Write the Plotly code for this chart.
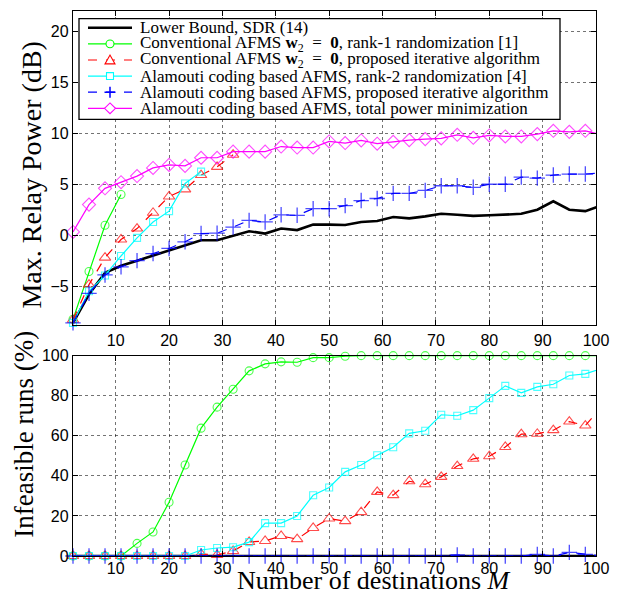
import plotly.graph_objects as go

# ---------------- data ----------------
M = list(range(2, 102, 3))  # 2, 5, ..., 98, 101

black_top = [-8.6, -5.8, -3.7, -3.0, -2.5, -2.0, -1.45, -0.97, -0.49, -0.49, -0.06, 0.39,
             0.16, 0.65, 0.5, 1.04, 1.04, 1.0, 1.3, 1.4, 1.78, 1.65, 1.85, 2.1, 2.0, 1.9,
             1.95, 2.0, 2.1, 2.5, 3.33, 2.5, 2.36, 2.93]
green_top = [-8.25, -3.56, 0.97, 4.0]
red_top = [-8.3, -4.85, -2.2, -0.42, 0.65, 2.2, 3.8, 4.5, 5.9, 6.7, 7.9]
cyan_top = [-8.6, -5.5, -3.95, -2.04, -0.26, 1.3, 2.36, 5.08, 6.24]
blue_top = [-8.6, -5.7, -3.9, -3.1, -2.5, -1.8, -1.3, -0.65, 0.16, 0.2, 0.8, 1.45,
            1.3, 2.0, 1.95, 2.6, 2.6, 2.9, 3.4, 3.6, 4.1, 4.1, 4.4, 4.85, 4.85, 4.7,
            5.0, 5.0, 5.7, 5.6, 5.9, 6.0, 6.0, 6.1]
magenta_top = [0.32, 3.0, 4.6, 5.2, 5.8, 6.6, 6.9, 6.8, 7.6, 7.6, 8.2, 8.2, 8.2, 8.7,
               8.6, 8.6, 9.2, 9.04, 9.3, 8.98, 9.17, 9.33, 9.43, 9.5, 9.85, 9.56, 9.79,
               9.69, 9.69, 9.92, 10.24, 10.14, 10.24, 9.88]

black_bot = [0.0] * 34
green_bot = [0, 0, 0, 0, 6.3, 12, 26.8, 45.4, 63.8, 74.3, 83.2, 92.4, 95.9, 96.9, 96.7,
             99, 99, 99.7, 100, 100, 100, 100, 100, 100, 100, 100, 100, 100, 100, 100,
             100, 100, 100, 100]
red_bot = [0, 0, 0, 0, 0, 0, 0, 0, 1.0, 0.5, 2.5, 7, 7.5, 10, 8.4, 14, 18.7, 17.4, 21.9,
           32, 30.4, 37.3, 35.8, 39.5, 44.9, 48.5, 49.8, 54.4, 60.8, 61, 62.8, 67.1,
           65.1, 74.3]
cyan_bot = [0, 0, 0, 0, 0, 0, 0, 0, 3.0, 4.0, 4.4, 6.9, 16.4, 16.4, 20, 30.3, 34.2, 42,
            45.4, 50.3, 54.3, 61.2, 62.5, 70.5, 70, 72.8, 78.8, 84.9, 81.4, 84.4, 85.7,
            90.1, 90.9, 93.5]
blue_bot = [0, 0, 0, 0, 0, 0, 0, 0, 0, 0, 0, 0, 0, 0, 0, 0, 0, 0, 0, 0, 0, 0, 0, 0, 0.5,
            0, 0, 0, 0, 0.8, 0, 1.8, 0.8, 0]

x_ticks = [10, 20, 30, 40, 50, 60, 70, 80, 90, 100]
y_ticks_top = [-5, 0, 5, 10, 15, 20]
y_ticks_bot = [0, 20, 40, 60, 80, 100]

W2 = "<b>w</b><sub>2</sub>\u00a0\u00a0=\u00a0\u00a0<b>0</b>"
legend_labels = [
    "Lower Bound, SDR (14)",
    f"Conventional AFMS {W2}, rank-1 randomization [1]",
    f"Conventional AFMS {W2}, proposed iterative algorithm",
    "Alamouti coding based AFMS, rank-2 randomization [4]",
    "Alamouti coding based AFMS, proposed iterative algorithm",
    "Alamouti coding based AFMS, total power minimization",
]

# ---------------- layout helpers ----------------
W, H = 618, 596
ML, MR, MT, MB = 73, 22, 3, 40
PW, PH = W - ML - MR, H - MT - MB


def fx(px):
    return (px - ML) / PW


def fy(py):
    return (H - MB - py) / PH


XMAX = 100
SERIF = "Liberation Serif, Times New Roman, serif"
SANS = "Liberation Sans, Arial, sans-serif"

styles = [
    dict(color="#000000", dash="solid", symbol=None, size=0, width=2.6),
    dict(color="#00ff00", dash="solid", symbol="circle-open", size=8, width=1.2),
    dict(color="#ff0000", dash="dash", symbol="triangle-up-open", size=10, width=1.2),
    dict(color="#00ffff", dash="solid", symbol="square-open", size=7, width=1.2),
    dict(color="#0000ff", dash="dash", symbol="cross-thin-open", size=11, width=1.2),
    dict(color="#ff00ff", dash="solid", symbol="diamond-open", size=10, width=1.2),
]

fig = go.Figure()


def add(xs, ys, st, xa, ya):
    sizes = [st["size"] if x <= XMAX else 0 for x in xs]
    mode = "lines" if st["symbol"] is None else "lines+markers"
    tr = dict(x=xs, y=ys, mode=mode, showlegend=False, xaxis=xa, yaxis=ya,
              line=dict(color=st["color"], dash=st["dash"], width=st["width"]),
              cliponaxis=False, hoverinfo="skip")
    if st["symbol"] is not None:
        tr["marker"] = dict(symbol=st["symbol"], size=sizes, color=st["color"],
                            line=dict(color=st["color"], width=1.3 if "cross" in st["symbol"] else 1.1))
    fig.add_trace(go.Scatter(**tr))


top_series = [black_top, green_top, red_top, cyan_top, blue_top, magenta_top]
for ys, st in zip(top_series, styles):
    add(M[:len(ys)], ys, st, "x", "y")

bot_series = [black_bot, green_bot, red_bot, cyan_bot, blue_bot]
for ys, st in zip(bot_series, styles[:5]):
    add(M[:len(ys)], ys, st, "x2", "y2")

axis_common = dict(showline=True, linecolor="black", linewidth=1.3, mirror="ticks",
                   ticks="inside", ticklen=5, tickcolor="black", tickwidth=1,
                   showgrid=True, gridcolor="rgba(0,0,0,0.55)", griddash="dot", gridwidth=1,
                   zeroline=False, tickfont=dict(family=SANS, size=16, color="black"))

top_bottom_px = 322
bot_top_px = 352.7
fig.update_layout(
    width=W, height=H,
    margin=dict(l=ML, r=MR, t=MT, b=MB),
    paper_bgcolor="white", plot_bgcolor="white",
    xaxis=dict(domain=[0, 1], range=[2, 100], tickvals=x_ticks, anchor="y", **axis_common),
    yaxis=dict(domain=[fy(top_bottom_px), 1], range=[-8.85, 22], tickvals=y_ticks_top,
               anchor="x", **axis_common),
    xaxis2=dict(domain=[0, 1], range=[2, 100], tickvals=x_ticks, anchor="y2",
                ticklabelstandoff=-2, **axis_common),
    yaxis2=dict(domain=[0, fy(bot_top_px)], range=[0, 100], tickvals=y_ticks_bot,
                anchor="x2", **axis_common),
    showlegend=False,
)

# axis titles
fig.add_annotation(text="Max. Relay Power (dB)", textangle=-90, xref="paper", yref="paper",
                   x=fx(32), y=fy(169), xanchor="center", yanchor="middle", showarrow=False,
                   font=dict(family=SERIF, size=28, color="black"))
fig.add_annotation(text="Infeasible runs (%)", textangle=-90, xref="paper", yref="paper",
                   x=fx(24), y=fy(433), xanchor="center", yanchor="middle", showarrow=False,
                   font=dict(family=SERIF, size=27, color="black"))
fig.add_annotation(text="Number of destinations <i>M</i>", xref="paper", yref="paper",
                   x=fx(374), y=fy(581), xanchor="center", yanchor="middle", showarrow=False,
                   font=dict(family=SERIF, size=26, color="black"))

# ---------------- custom legend ----------------
shapes = []
box = dict(x0=79, x1=560, y0=10.7, y1=113)
shapes.append(dict(type="rect", xref="paper", yref="paper", x0=fx(box["x0"]), x1=fx(box["x1"]),
                   y0=fy(box["y1"]), y1=fy(box["y0"]), line=dict(color="black", width=1.3),
                   fillcolor="white", layer="above"))
row0, drow = 20.0, 16.35
lx0, lx1, lxc, tx = 88, 132, 110, 138


def P(px, py):
    return f"{fx(px):.5f},{fy(py):.5f}"


for i, (lab, st) in enumerate(zip(legend_labels, styles)):
    yc = row0 + i * drow
    dash = "solid" if st["dash"] == "solid" else "dash"
    shapes.append(dict(type="line", xref="paper", yref="paper", x0=fx(lx0), x1=fx(lx1),
                       y0=fy(yc), y1=fy(yc), layer="above",
                       line=dict(color=st["color"], width=st["width"], dash=dash)))
    sym = st["symbol"]
    mk = dict(xref="paper", yref="paper", layer="above", line=dict(color=st["color"], width=1.1))
    if sym == "circle-open":
        r = 4
        shapes.append(dict(type="circle", x0=fx(lxc - r), x1=fx(lxc + r), y0=fy(yc + r),
                           y1=fy(yc - r), fillcolor="white", **mk))
    elif sym == "square-open":
        r = 3.5
        shapes.append(dict(type="rect", x0=fx(lxc - r), x1=fx(lxc + r), y0=fy(yc + r),
                           y1=fy(yc - r), fillcolor="white", **mk))
    elif sym == "triangle-up-open":
        r = 5
        path = f"M{P(lxc - r, yc + r * 0.8)} L{P(lxc + r, yc + r * 0.8)} L{P(lxc, yc - r)} Z"
        shapes.append(dict(type="path", path=path, fillcolor="white", **mk))
    elif sym == "diamond-open":
        r = 5.5
        path = f"M{P(lxc - r, yc)} L{P(lxc, yc - r)} L{P(lxc + r, yc)} L{P(lxc, yc + r)} Z"
        shapes.append(dict(type="path", path=path, fillcolor="white", **mk))
    elif sym == "cross-thin-open":
        r = 5.5
        path = f"M{P(lxc - r, yc)} L{P(lxc + r, yc)} M{P(lxc, yc - r)} L{P(lxc, yc + r)}"
        mk2 = dict(mk)
        mk2["line"] = dict(color=st["color"], width=1.5)
        shapes.append(dict(type="path", path=path, **mk2))
    fig.add_annotation(text=lab, xref="paper", yref="paper", x=fx(tx), y=fy(yc),
                       xanchor="left", yanchor="middle", showarrow=False,
                       font=dict(family=SERIF, size=17, color="black"))

fig.update_layout(shapes=shapes)
fig.write_html("out.html", config={"displayModeBar": False},
               post_script="document.body.style.margin='0';document.body.style.overflow='hidden';")
